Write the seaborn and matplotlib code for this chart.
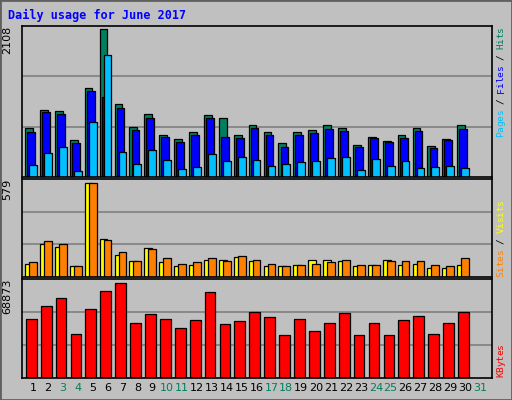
import matplotlib
matplotlib.use('Agg')
import matplotlib.pyplot as plt
import numpy as np
import seaborn as sns

DAYS = list(range(1, 31))
LABEL_DAYS = list(range(1, 32))
WEEKENDS = [3, 4, 10, 11, 17, 18, 24, 25, 31]

hits = [706, 954, 935, 534, 1264, 2108, 1035, 720, 892, 606, 549, 649, 878, 849, 606,
        735, 649, 491, 649, 677, 735, 706, 463, 577, 520, 606, 706, 448, 549, 735]
files = [649, 921, 906, 491, 1226, 1135, 978, 677, 835, 577, 506, 606, 835, 577, 563,
         706, 606, 434, 606, 634, 692, 663, 434, 563, 506, 563, 663, 420, 534, 692]
pages = [177, 348, 434, 91, 792, 1736, 363, 191, 391, 248, 119, 148, 334, 234, 291,
         248, 162, 191, 219, 234, 277, 291, 105, 262, 162, 234, 134, 148, 162, 134]
visits = [83, 202, 183, 65, 579, 233, 133, 102, 177, 90, 71, 77, 108, 108, 121,
          102, 71, 65, 77, 108, 108, 96, 71, 77, 108, 77, 83, 58, 58, 77]
sites = [90, 221, 202, 71, 579, 227, 152, 102, 171, 115, 83, 90, 115, 102, 127,
         108, 83, 71, 77, 83, 90, 108, 77, 77, 102, 102, 102, 77, 65, 115]
kbytes = [43325, 52800, 58000, 31800, 50600, 63100, 68873, 40300, 46300, 43300, 36300,
          42500, 62400, 39300, 41600, 48300, 44600, 31000, 43300, 34300, 40300, 47600,
          31000, 40300, 31000, 42500, 45300, 31800, 40300, 48300]

BG = '#c0c0c0'
GREEN = '#007f5f'
W, H = 512, 400

fig = plt.figure(figsize=(5.12, 4.0), dpi=100, facecolor=BG)
fig.patches.append(plt.Rectangle((0, 0), 1, 1, transform=fig.transFigure,
                                 fill=False, edgecolor='#606060', linewidth=2))


def axes_px(top, bottom, left=22, right=492):
    return fig.add_axes([left / W, 1 - bottom / H, (right - left) / W, (bottom - top) / H])


def bars(ax, vals, offset, color, width):
    x = np.array(DAYS) + offset
    sns.barplot(x=x, y=vals, native_scale=True, width=width, color=color,
                saturation=1, edgecolor='black', linewidth=0.9, ax=ax)


def setup(ax, ymax, label):
    ax.set_facecolor(BG)
    ax.set_xlim(0.26, 31.8)
    ax.set_ylim(0, ymax)
    ax.set_yticks([ymax / 3, ymax * 2 / 3])
    ax.yaxis.grid(True, color='#808080', linewidth=1.2)
    ax.set_axisbelow(True)
    ax.tick_params(left=False, bottom=False, labelleft=False, labelbottom=False)
    ax.set_xlabel('')
    ax.set_ylabel('')
    for s in ax.spines.values():
        s.set_color('black')
        s.set_linewidth(1.2)
    ax.text(-0.02, 1.0, label, transform=ax.transAxes, rotation=90, ha='right',
            va='top', fontsize=8, family='DejaVu Sans')


ax1 = axes_px(26, 177)
bars(ax1, hits, -0.27, GREEN, 0.52)
bars(ax1, files, -0.13, '#0000ff', 0.52)
bars(ax1, pages, 0.0, '#00c0ff', 0.52)
setup(ax1, 2155, '2108')

ax2 = axes_px(179, 277)
bars(ax2, visits, -0.27, '#ffff00', 0.52)
bars(ax2, sites, 0.0, '#ff8000', 0.52)
setup(ax2, 606, '579')

ax3 = axes_px(279, 378)
bars(ax3, kbytes, -0.12, '#ff0000', 0.72)
setup(ax3, 72130, '68873')

fig.text(8 / W, 1 - 15 / H, 'Daily usage for June 2017', color='#0000ff',
         fontsize=8.5, fontweight='bold', family='DejaVu Sans Mono', va='center')

for d in LABEL_DAYS:
    ax3.text(d, -0.1, str(d), transform=ax3.get_xaxis_transform(), ha='center',
             va='center', fontsize=8, color=GREEN if d in WEEKENDS else 'black')

# rotated side legends, drawn character by character from the bottom up
STEP = 5.5
side = [
    (137, [('Pages', '#00c0ff'), (' / ', 'black'), ('Files', '#0000ff'),
           (' / ', 'black'), ('Hits', GREEN)]),
    (277, [('Sites', '#ff8000'), (' / ', 'black'), ('Visits', '#ffff00')]),
    (377, [('KBytes', '#ff0000')]),
]
for bottom, parts in side:
    i = 0
    for txt, col in parts:
        for ch in txt:
            if ch != ' ':
                y = bottom - (i + 0.5) * STEP
                fig.text(501 / W, 1 - y / H, ch, color=col, rotation=90, ha='center',
                         va='center', fontsize=6.8, family='DejaVu Sans Mono')
            i += 1

fig.savefig('out.png', dpi=100, facecolor=BG)
